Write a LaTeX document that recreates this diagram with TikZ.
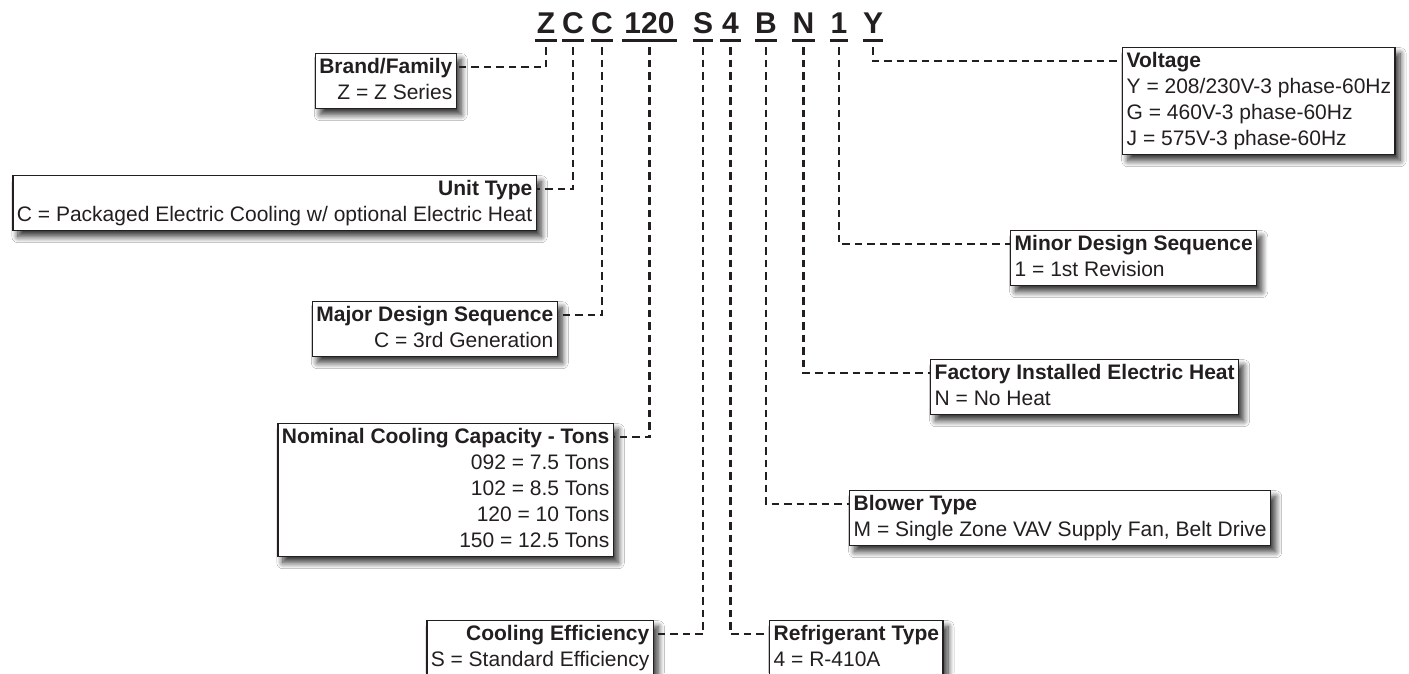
\documentclass[tikz,border=0pt]{standalone}
\usepackage{fontspec}
\setmainfont{Liberation Sans}
\usetikzlibrary{shadows.blur}
\definecolor{ink}{HTML}{231F20}
\newcommand\sline[1]{#1\strut}
\begin{document}
\begin{tikzpicture}[x=1pt,y=-1pt,
  box/.style={draw=ink, line width=1.4pt, fill=white, inner xsep=4pt, inner ysep=1.5pt,
    font=\fontsize{21}{26}\selectfont, text=ink,
    blur shadow={shadow xshift=5pt, shadow yshift=-6pt, shadow blur radius=6pt, shadow blur steps=12, shadow opacity=80}},
  lbox/.style={box, anchor=north east, align=right},
  rbox/.style={box, anchor=north west, align=left},
  code/.style={font=\fontsize{30}{30}\selectfont\bfseries, text=ink, inner sep=0pt, anchor=base},
  uline/.style={draw=ink, line width=3pt},
  conn/.style={draw=ink, line width=2.8pt, dash pattern=on 7.5pt off 5pt}]
\useasboundingbox (0,0) rectangle (1409,673);
\clip (0,0) rectangle (1409,673);
\fill[white] (0,0) rectangle (1409,673);

% code letters
\node[code, minimum width=22pt] (cZ) at (546,33) {Z};
\node[code, minimum width=20pt] (cC) at (573,33) {C};
\node[code, minimum width=20pt] (cCC) at (602,33) {C};
\node[code, minimum width=55pt] (cT) at (649.5,33) {120};
\node[code, minimum width=20pt] (cS) at (703,33) {S};
\node[code, minimum width=21pt] (cF) at (730.5,33) {4};
\node[code, minimum width=22pt] (cB) at (766,33) {B};
\node[code, minimum width=23pt] (cN) at (803.5,33) {N};
\node[code, minimum width=18pt] (cO) at (839,33) {1};
\node[code, minimum width=20pt] (cY) at (873,33) {Y};
\foreach \n in {cZ,cC,cCC,cT,cS,cF,cB,cN,cO,cY}
  \draw[uline] ([yshift=-7pt]\n.base west) -- ([yshift=-7pt]\n.base east);

% left boxes
\node[lbox] (brand) at (457,53) {\sline{\textbf{Brand/Family}}\\\sline{Z = Z Series}};
\node[lbox] (unit) at (537,175) {\sline{\textbf{Unit Type}}\\\sline{C = Packaged Electric Cooling w/ optional Electric Heat}};
\node[lbox] (major) at (558,301) {\sline{\textbf{Major Design Sequence}}\\\sline{C = 3rd Generation}};
\node[lbox] (nominal) at (614,423) {\sline{\textbf{Nominal Cooling Capacity - Tons}}\\\sline{092 = 7.5 Tons}\\\sline{102 = 8.5 Tons}\\\sline{120 = 10 Tons}\\\sline{150 = 12.5 Tons}};
\node[lbox] (eff) at (654,620) {\sline{\textbf{Cooling Efficiency}}\\\sline{S = Standard Efficiency}};

% right boxes
\node[rbox] (volt) at (1122,47) {\sline{\textbf{Voltage}}\\\sline{Y = 208/230V-3 phase-60Hz}\\\sline{G = 460V-3 phase-60Hz}\\\sline{J = 575V-3 phase-60Hz}};
\node[rbox] (minor) at (1010,230) {\sline{\textbf{Minor Design Sequence}}\\\sline{1 = 1st Revision}};
\node[rbox] (heat) at (930,359) {\sline{\textbf{Factory Installed Electric Heat}}\\\sline{N = No Heat}};
\node[rbox] (blower) at (849,490) {\sline{\textbf{Blower Type}}\\\sline{M = Single Zone VAV Supply Fan, Belt Drive}};
\node[rbox] (refr) at (769,620) {\sline{\textbf{Refrigerant Type}}\\\sline{4 = R-410A}};

% connectors
\draw[conn] ([yshift=-14pt]cZ.base) |- ([yshift=-14pt]brand.north east);
\draw[conn] ([yshift=-14pt]cC.base) |- ([yshift=-14pt]unit.north east);
\draw[conn] ([yshift=-14pt]cCC.base) |- ([yshift=-14pt]major.north east);
\draw[conn] ([yshift=-14pt]cT.base) |- ([yshift=-14pt]nominal.north east);
\draw[conn] ([yshift=-14pt]cS.base) |- ([yshift=-14pt]eff.north east);
\draw[conn] ([yshift=-14pt]cF.base) |- ([yshift=-14pt]refr.north west);
\draw[conn] ([yshift=-14pt]cB.base) |- ([yshift=-14pt]blower.north west);
\draw[conn] ([yshift=-14pt]cN.base) |- ([yshift=-14pt]heat.north west);
\draw[conn] ([yshift=-14pt]cO.base) |- ([yshift=-14pt]minor.north west);
\draw[conn] ([yshift=-14pt]cY.base) |- ([yshift=-14pt]volt.north west);
\end{tikzpicture}
\end{document}
